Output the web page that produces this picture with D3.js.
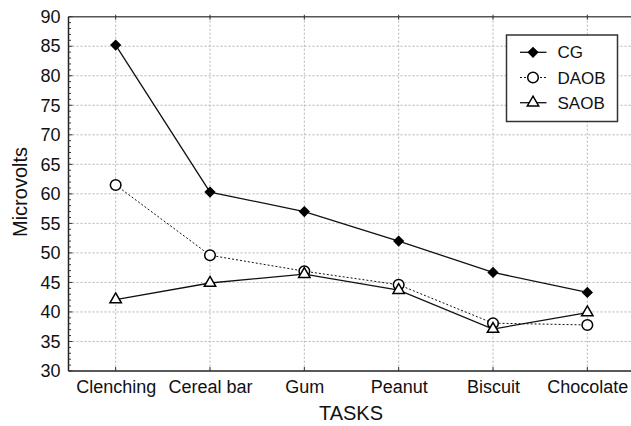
<!DOCTYPE html>
<html><head><meta charset="utf-8">
<script src="https://cdn.jsdelivr.net/npm/d3@7"></script>
<style>html,body{margin:0;padding:0;background:#fff;overflow:hidden}</style>
</head><body>
<svg id="c" width="631" height="426"></svg>
<script>
const categories = ["Clenching","Cereal bar","Gum","Peanut","Biscuit","Chocolate"];
const cgValues   = [85.2, 60.3, 57.0, 52.0, 46.7, 43.3];
const daobValues = [61.5, 49.6, 46.9, 44.6, 38.1, 37.8];
const saobValues = [42.1, 44.9, 46.4, 43.7, 37.1, 39.9];
const yTicks = [30,35,40,45,50,55,60,65,70,75,80,85,90];
const seriesNames = ["CG","DAOB","SAOB"];

const svg = d3.select("#c");
const L = 68.5, R = 634.5, T = 16.7, B = 371;
const x = d3.scalePoint().domain(categories).range([L, R]).padding(0.5);
const y = d3.scaleLinear().domain([30, 90]).range([B, T]);
const font = "Liberation Sans, Arial, sans-serif";

// grid
const g = svg.append("g");
g.selectAll(".hg").data(yTicks.filter(v => v > 30 && v < 90)).enter().append("line")
  .attr("x1", L).attr("x2", R).attr("y1", d => y(d)).attr("y2", d => y(d))
  .attr("stroke", "#b5b5b5").attr("stroke-width", 1).attr("stroke-dasharray", "2,2");
g.selectAll(".vg").data(categories).enter().append("line")
  .attr("x1", d => x(d)).attr("x2", d => x(d)).attr("y1", T).attr("y2", B)
  .attr("stroke", "#b5b5b5").attr("stroke-width", 1).attr("stroke-dasharray", "2,2");

// frame
svg.append("line").attr("x1", L).attr("x2", R).attr("y1", T).attr("y2", T).attr("stroke", "#555").attr("stroke-width", 1.5);
svg.append("line").attr("x1", L).attr("x2", R).attr("y1", B).attr("y2", B).attr("stroke", "#222").attr("stroke-width", 1.5);
svg.append("line").attr("x1", L).attr("x2", L).attr("y1", T).attr("y2", B).attr("stroke", "#222").attr("stroke-width", 1.5);

// y axis with minor ticks (inward)
const yAxis = d3.axisLeft(y).tickValues(yTicks).tickSize(0).tickPadding(8);
const ya = svg.append("g").attr("transform", `translate(${L},0)`).call(yAxis);
ya.select(".domain").remove();
ya.selectAll("text").attr("font-family", font).attr("font-size", 18).attr("fill", "#111");
svg.append("g").selectAll("line").data(d3.range(30, 91, 1)).enter().append("line")
  .attr("x1", L).attr("x2", d => L + (d % 5 === 0 ? 4 : 2.5)).attr("y1", d => y(d)).attr("y2", d => y(d))
  .attr("stroke", "#333").attr("stroke-width", 1);

// x axis
const xAxis = d3.axisBottom(x).tickSize(0).tickPadding(9);
const xa = svg.append("g").attr("transform", `translate(0,${B})`).call(xAxis);
xa.select(".domain").remove();
xa.selectAll("text").attr("font-family", font).attr("font-size", 18).attr("fill", "#111");
svg.append("g").selectAll("line").data(categories).enter().append("line")
  .attr("x1", d => x(d)).attr("x2", d => x(d)).attr("y1", B).attr("y2", B - 4)
  .attr("stroke", "#333").attr("stroke-width", 1);
svg.append("g").selectAll("line").data(categories).enter().append("line")
  .attr("x1", d => x(d)).attr("x2", d => x(d)).attr("y1", T - 2).attr("y2", T + 3)
  .attr("stroke", "#333").attr("stroke-width", 1);

// axis titles
svg.append("text").attr("x", 351).attr("y", 420).attr("text-anchor", "middle")
  .attr("font-family", font).attr("font-size", 20).attr("fill", "#111").text("TASKS");
svg.append("text").attr("transform", "translate(27,192) rotate(-90)").attr("text-anchor", "middle")
  .attr("font-family", font).attr("font-size", 20).attr("fill", "#111").text("Microvolts");

// series
const series = [
  {name: seriesNames[0], values: cgValues, dash: null, sym: d3.symbolSquare, size: 42, rot: 45, fill: "#000"},
  {name: seriesNames[1], values: daobValues, dash: "2,2", sym: d3.symbolCircle, size: 88, rot: 0, fill: "#fff"},
  {name: seriesNames[2], values: saobValues, dash: null, sym: d3.symbolTriangle, size: 56, rot: 0, fill: "#fff"}
];
const line = d3.line().x((d, i) => x(categories[i])).y(d => y(d));
series.forEach(s => {
  svg.append("path").attr("d", line(s.values)).attr("fill", "none")
    .attr("stroke", "#111").attr("stroke-width", s.dash ? 1 : 1.3)
    .attr("stroke-dasharray", s.dash);
});
series.forEach(s => {
  svg.append("g").selectAll("path").data(s.values).enter().append("path")
    .attr("transform", (d, i) => `translate(${x(categories[i])},${y(d)}) rotate(${s.rot})`)
    .attr("d", d3.symbol().type(s.sym).size(s.size))
    .attr("fill", s.fill).attr("stroke", "#000").attr("stroke-width", 1.5);
});

// legend
const lg = svg.append("g");
lg.append("rect").attr("x", 506.5).attr("y", 35).attr("width", 111).attr("height", 86.5)
  .attr("fill", "#fff").attr("stroke", "#333").attr("stroke-width", 1.5);
series.forEach((s, i) => {
  const cy = 52.3 + i * 25.2;
  lg.append("line").attr("x1", 520).attr("x2", 546.5).attr("y1", cy).attr("y2", cy)
    .attr("stroke", "#111").attr("stroke-width", s.dash ? 1 : 1.3).attr("stroke-dasharray", s.dash);
  lg.append("path").attr("transform", `translate(533,${cy}) rotate(${s.rot})`)
    .attr("d", d3.symbol().type(s.sym).size(s.size)).attr("fill", s.fill).attr("stroke", "#000").attr("stroke-width", 1.5);
  lg.append("text").attr("x", 557.5).attr("y", cy + 6).attr("font-family", font).attr("font-size", 17)
    .attr("fill", "#111").text(s.name);
});
</script>
</body></html>
